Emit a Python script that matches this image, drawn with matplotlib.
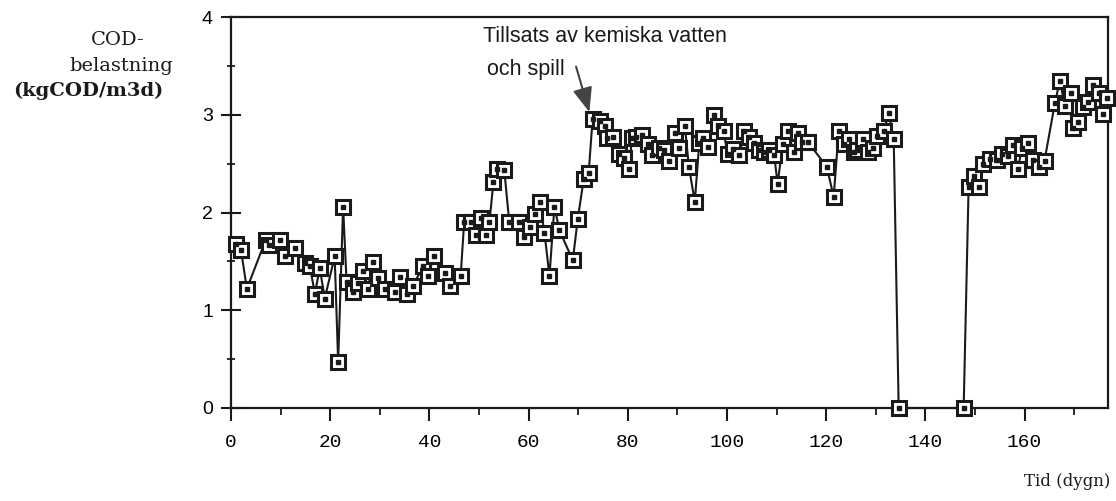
import matplotlib.pyplot as plt
from matplotlib.ticker import MultipleLocator

# COD load per day
days = [1.0, 2.0, 3.2, 7.0, 7.6, 9.8, 10.9, 12.9, 14.9, 15.9, 16.9, 17.9, 18.9,
        20.9, 21.6, 22.6, 23.3, 24.6, 25.6, 26.6, 27.6, 28.6, 29.6, 31.0, 33.0,
        34.0, 35.4, 36.7, 38.7, 39.7, 40.9, 43.1, 44.1, 46.3, 47.0, 48.4, 49.4,
        50.3, 51.4, 52.1, 52.9, 53.6, 55.1, 56.1, 58.0, 59.1, 60.2, 61.2, 62.2,
        63.2, 64.2, 65.2, 66.2, 68.9, 69.9, 71.1, 72.1, 72.9, 74.3, 75.3, 75.9,
        77.1, 78.3, 79.3, 80.3, 80.8, 81.6, 82.9, 84.1, 84.9, 86.3, 87.3, 88.3,
        89.5, 90.4, 91.5, 92.3, 93.5, 94.4, 95.2, 96.1, 97.3, 98.1, 99.3, 100.1,
        101.2, 102.4, 103.4, 104.4, 105.4, 106.4, 107.4, 108.5, 109.5, 110.2,
        111.2, 112.3, 113.4, 114.3, 115.2, 116.3, 120.1, 121.5, 122.5, 123.5,
        124.6, 125.5, 126.3, 127.5, 128.5, 129.5, 130.3, 131.6, 132.6, 133.6,
        134.6, 147.7, 148.7, 149.7, 150.7, 151.7, 153.0, 154.5, 155.5, 156.6,
        157.7, 158.6, 159.5, 160.7, 161.7, 162.8, 164.0, 166.1, 167.1, 168.1,
        169.3, 169.8, 170.7, 171.8, 172.8, 173.8, 175.0, 175.8, 176.6]
cod = [1.68, 1.62, 1.22, 1.72, 1.67, 1.72, 1.56, 1.64, 1.48, 1.45, 1.17, 1.43, 1.12,
       1.55, 0.47, 2.06, 1.29, 1.19, 1.28, 1.40, 1.22, 1.49, 1.33, 1.22, 1.19,
       1.34, 1.17, 1.25, 1.45, 1.35, 1.55, 1.38, 1.25, 1.35, 1.90, 1.90, 1.77,
       1.94, 1.77, 1.90, 2.31, 2.45, 2.43, 1.90, 1.90, 1.75, 1.85, 1.98, 2.11,
       1.79, 1.35, 2.06, 1.82, 1.51, 1.93, 2.34, 2.40, 2.96, 2.94, 2.88, 2.76,
       2.77, 2.60, 2.56, 2.45, 2.76, 2.77, 2.79, 2.70, 2.59, 2.66, 2.64, 2.53,
       2.81, 2.66, 2.88, 2.47, 2.11, 2.71, 2.76, 2.67, 3.00, 2.89, 2.83, 2.60,
       2.65, 2.59, 2.83, 2.77, 2.71, 2.64, 2.62, 2.64, 2.59, 2.29,
       2.70, 2.83, 2.62, 2.81, 2.72, 2.72, 2.47, 2.16, 2.83, 2.70,
       2.75, 2.62, 2.64, 2.75, 2.62, 2.66, 2.78, 2.83, 3.02, 2.75,
       0.0, 0.0, 2.26, 2.37, 2.26, 2.50, 2.55, 2.54, 2.60, 2.58,
       2.69, 2.45, 2.66, 2.71, 2.54, 2.47, 2.53, 3.12, 3.35, 3.09,
       3.22, 2.86, 2.93, 3.08, 3.13, 3.30, 3.22, 3.01, 3.17]

W, H = 1116, 501


def fx(px):
    return px / W


def fy(py):
    return 1 - py / H


ink = '#1a1a1a'
fig = plt.figure(figsize=(W / 100, H / 100), dpi=100)
ax = fig.add_axes([fx(231), fy(408), (1108 - 231) / W, (408 - 17) / H])

ax.plot(days, cod, color=ink, lw=1.5, marker='s', ms=9.5, mfc='white',
        mec=ink, mew=2.2, clip_on=False, zorder=3)
ax.plot(days, cod, ls='none', marker='s', ms=2.2, color=ink, clip_on=False, zorder=4)

ax.set_xlim(0, 176.8)
ax.set_ylim(0, 4)
ax.xaxis.set_major_locator(MultipleLocator(20))
ax.xaxis.set_minor_locator(MultipleLocator(10))
ax.yaxis.set_major_locator(MultipleLocator(1))
ax.yaxis.set_minor_locator(MultipleLocator(0.5))

for s in ax.spines.values():
    s.set_linewidth(1.6)
    s.set_color(ink)

ax.tick_params(axis='x', which='major', direction='out', length=9, width=1.5,
               color=ink, pad=10)
ax.tick_params(axis='x', which='minor', direction='out', length=5, width=1.3, color=ink)
ax.tick_params(axis='y', which='major', direction='inout', length=14, width=1.5,
               color=ink, pad=6)
ax.tick_params(axis='y', which='minor', direction='inout', length=6, width=1.3, color=ink)

for lab in ax.get_xticklabels():
    lab.set_fontfamily('Liberation Mono')
    lab.set_fontsize(14)
for lab in ax.get_yticklabels():
    lab.set_fontfamily('Liberation Sans')
    lab.set_fontsize(14)

# annotation
ax.annotate('', xy=(72.4, 3.0), xytext=(69.4, 3.52),
            arrowprops=dict(arrowstyle='-|>,head_length=1.5,head_width=0.6',
                            lw=1.5, color='#444444'))
fig.text(fx(483), fy(37), 'Tillsats av kemiska vatten', ha='left', va='center',
         fontsize=15.5, family='Liberation Sans', color=ink)
fig.text(fx(487), fy(69), 'och spill', ha='left', va='center',
         fontsize=15.5, family='Liberation Sans', color=ink)

# axis labels
fig.text(fx(118), fy(40), 'COD-', ha='center', va='center', fontsize=14,
         family='DejaVu Serif', color=ink)
fig.text(fx(121), fy(66), 'belastning', ha='center', va='center', fontsize=14,
         family='DejaVu Serif', color=ink)
fig.text(fx(88), fy(91), '(kgCOD/m3d)', ha='center', va='center', fontsize=14,
         family='DejaVu Serif', weight='bold', color=ink)
fig.text(fx(1110), fy(482), 'Tid (dygn)', ha='right', va='center', fontsize=12,
         family='DejaVu Serif', color=ink)

fig.savefig('out.png', dpi=100)
